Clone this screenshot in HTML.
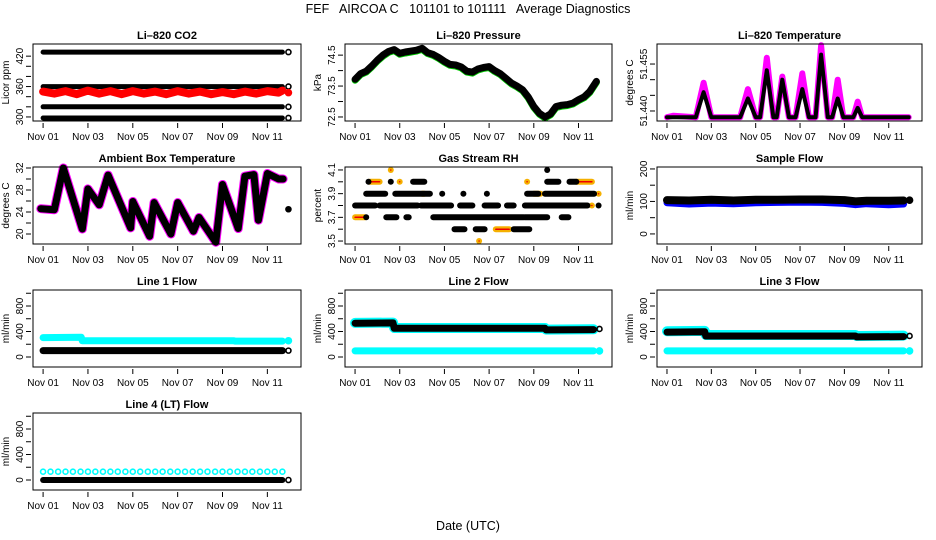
<!DOCTYPE html>
<html><head><meta charset="utf-8">
<style>
html,body{margin:0;padding:0;background:#fff;}
svg{display:block;font-family:"Liberation Sans",Arial,sans-serif;}
</style></head>
<body>
<svg id="chart" width="936" height="540" viewBox="0 0 936 540" xmlns="http://www.w3.org/2000/svg">
<text x="468" y="13" text-anchor="middle" font-size="12.5" style="white-space:pre" xml:space="preserve">FEF   AIRCOA C   101101 to 101111   Average Diagnostics</text>
<text x="468" y="530" text-anchor="middle" font-size="12.5">Date (UTC)</text>
</svg>
<script>
// ---- shared x data ----
const xTickDays = [0,2,4,6,8,10];
const xTickLabels = ["Nov 01","Nov 03","Nov 05","Nov 07","Nov 09","Nov 11"];

// ---- CO2 ----
const co2Days = [0,10.67];
const co2Black1 = [428,428];
const co2Black2 = [360,360];
const co2Black3 = [320,320];
const co2Black4 = [298,298];
const co2RedDays = [0,0.5,1,1.5,2,2.5,3,3.5,4,4.5,5,5.5,6,6.5,7,7.5,8,8.5,9,9.5,10,10.5,10.67];
const co2Red = [350,346,351,345,352,346,351,345,351,346,350,345,351,346,350,345,349,345,350,346,351,348,352];

// ---- Pressure ----
const presDays = [0,0.25,0.5,0.75,1,1.25,1.5,1.75,2,2.25,2.5,2.75,3,3.25,3.5,3.75,4,4.25,4.5,4.75,5,5.25,5.5,5.75,6,6.25,6.5,6.75,7,7.25,7.5,7.75,8,8.25,8.5,8.75,9,9.25,9.5,9.75,10,10.25,10.5,10.8];
const presVals = [73.72,73.9,73.98,74.15,74.34,74.5,74.62,74.68,74.56,74.6,74.63,74.66,74.72,74.58,74.52,74.42,74.3,74.2,74.18,74.12,73.98,73.95,74.05,74.1,74.13,74.0,73.9,73.75,73.6,73.5,73.38,73.15,72.84,72.62,72.5,72.6,72.84,72.88,72.9,72.95,73.06,73.15,73.32,73.65];

// ---- Li-820 temperature spikes ----
const ltDays = [0,0.3,1.3,1.65,2.0,3.3,3.65,4.0,4.2,4.5,4.8,4.95,5.2,5.5,5.8,6.1,6.4,6.7,6.95,7.25,7.45,7.7,7.95,8.4,8.6,8.8,10.9];
const ltMagenta = [51.438,51.4385,51.438,51.449,51.438,51.438,51.447,51.438,51.438,51.457,51.438,51.438,51.451,51.438,51.438,51.452,51.438,51.438,51.461,51.438,51.438,51.450,51.438,51.438,51.443,51.438,51.438];
const ltBlack = [51.438,51.438,51.438,51.446,51.438,51.438,51.444,51.438,51.438,51.453,51.438,51.438,51.450,51.438,51.438,51.447,51.438,51.438,51.458,51.438,51.438,51.444,51.438,51.438,51.441,51.438,51.438];

// ---- Ambient box temperature ----
const ambDays = [-0.1,0.5,0.9,1.75,2.0,2.5,2.9,3.9,4.0,4.75,4.95,5.7,6.0,6.7,6.95,7.7,8.0,8.7,9.0,9.4,9.6,10.0,10.5,10.7];
const ambVals = [24.6,24.4,32,20.9,28.2,25.3,30.7,21.1,25.9,19.6,25.7,20,25.7,20.5,23,18.5,29,21,30.5,30.8,22.5,31,30,30];

// ---- Gas stream RH (segments) ----
const rhStart = [0,1.1,2.95,4.7,5.8,6.8,7.6,10.9, 0.5,1.8,3.9,4.85,5.9,7.7,8.5, 0.5,1.4,2.3,3.5,7.6,9.25, 0.6,1.6,2.6,8.6,9.6, 4.45,5.4,7.1, 8.6];
const rhEnd   = [0.9,2.8,4.3,5.25,6.4,7.1,10.4,10.9, 1.35,3.35,3.9,4.85,5.9,8.2,10.7, 0.5,1.85,2.4,7.55,8.6,9.55, 0.6,1.6,3.1,9.1,9.9, 4.9,5.8,7.8, 8.6];
const rhVal   = [3.8,3.8,3.8,3.8,3.8,3.8,3.8,3.8, 3.9,3.9,3.9,3.9,3.9,3.9,3.9, 3.7,3.7,3.7,3.7,3.7,3.7, 4.0,4.0,4.0,4.0,4.0, 3.6,3.6,3.6, 4.1];
const rhOrStart = [0,0.65,6.3,5.55,1.6,9.9,10.9,10.6,7.7,2.0,3.0,8.0];
const rhOrEnd   = [0.45,1.1,6.9,5.55,1.6,10.6,10.9,10.6,7.7,2.0,3.1,8.3];
const rhOrVal   = [3.7,4.0,3.6,3.5,4.1,4.0,3.9,3.8,4.0,4.0,3.9,3.9];

// ---- Sample flow ----
const sfDays = [0,1,2,3,4,5,6,7,8,8.5,9,10,10.67];
const sfBlack = [104,103,105,103,105,105,106,106,104,100,102,102,103];
const sfBlue = [96,92,95,93,96,97,98,97,94,90,93,90,92];

// ---- Line flows ----
const lfDays = [0,1.7,1.75,8.5,8.55,10.67];
const l1Black = [100,100,100,100,100,100];
const l1Cyan = [305,310,255,255,250,250];
const l2Black = [530,535,450,450,425,430];
const l2CyanLow = [95,95,95,95,95,95];
const l3Black = [390,395,330,330,315,320];
const l3CyanHigh = [405,410,345,345,330,335];
const l3CyanLow = [95,95,95,95,95,95];
const l4Days = [0,0.33,0.67,1,1.33,1.67,2,2.33,2.67,3,3.33,3.67,4,4.33,4.67,5,5.33,5.67,6,6.33,6.67,7,7.33,7.67,8,8.33,8.67,9,9.33,9.67,10,10.33,10.67];
const l4Cyan = [130,130,130,130,130,130,130,130,130,130,130,130,130,130,130,130,130,130,130,130,130,130,130,130,130,130,130,130,130,130,130,130,130];
const l4BlackDays = [0,10.67];
const l4Black = [0,0];

const NS = "http://www.w3.org/2000/svg";
const svg = document.getElementById('chart');
const cols = [[33,301],[345,612],[657,922]];
const rows = [[44,121],[167,244],[290,367],[413,490]];
const XD = [-0.45,11.5];

function mk(tag, attrs, parent){
  const e = document.createElementNS(NS, tag);
  for (const k in attrs) e.setAttribute(k, attrs[k]);
  (parent||svg).appendChild(e);
  return e;
}

function panel(name, title, col, row, yd, yticks, ylabels, ytitle){
  const [x0,x1] = cols[col], [y0,y1] = rows[row];
  const g = mk('g', {});
  
  
  const sx = d => x0 + (d - XD[0]) / (XD[1]-XD[0]) * (x1-x0);
  const sy = v => y1 - (v - yd[0]) / (yd[1]-yd[0]) * (y1-y0);
  const t = mk('text', {x:(x0+x1)/2, y:y0-5, 'text-anchor':'middle', 'font-size':11, 'font-weight':'bold'}, g);
  t.textContent = title;
  
  
  const xa = mk('g', {}, g);
  
  
  xTickDays.forEach((d,i)=>{
    const x = sx(d);
    mk('line',{x1:x,x2:x,y1:y1+2,y2:y1+7,stroke:'#000','stroke-width':1},xa);
    const l = mk('text',{x:x,y:y1+19,'text-anchor':'middle','font-size':10},xa);
    l.textContent = xTickLabels[i];
  });
  const ya = mk('g', {}, g);
  
  
  yticks.forEach((v,i)=>{
    const y = sy(v);
    mk('line',{x1:x0-2,x2:x0-7,y1:y,y2:y,stroke:'#000','stroke-width':1},ya);
    if (ylabels[i] !== '') {
      const l = mk('text',{x:x0-10,y:y,'text-anchor':'middle','font-size':10,transform:`rotate(-90 ${x0-10} ${y})`},ya);
      l.textContent = ylabels[i];
    }
  });
  const yt = mk('text',{x:x0-24,y:(y0+y1)/2,'text-anchor':'middle','font-size':10,transform:`rotate(-90 ${x0-24} ${(y0+y1)/2})`},g);
  yt.textContent = ytitle;
  
  
  const clip = mk('g', {}, g);
  return {g: clip, sx, sy, box: ()=>{
    const r = mk('rect',{x:x0,y:y0,width:x1-x0,height:y1-y0,fill:'none',stroke:'#000','stroke-width':1},g);
    
    
  }};
}

function line(p, name, days, vals, color, w){
  const pts = days.map((d,i)=>p.sx(d).toFixed(1)+','+p.sy(vals[i]).toFixed(1)).join(' ');
  const e = mk('polyline',{points:pts,fill:'none',stroke:color,'stroke-width':w,'stroke-linejoin':'round','stroke-linecap':'round'},p.g);
  
  
}
function dot(p, name, d, v, color, r, fill){
  const e = mk('circle',{cx:p.sx(d),cy:p.sy(v),r:r||2.5,fill:fill||'none',stroke:color,'stroke-width':1.6},p.g);
  
  
}
function dots(p, name, days, vals, color, r){
  days.forEach((d,i)=>dot(p,name,d,vals[i],color,r));
}

let p = panel('co2','Li\u2013820 CO2',0,0,[292,444],[300,320,340,360,380,400,420],['300','','','360','','','420'],'Licor ppm');
line(p,'co2-black-428',co2Days,co2Black1,'#000',5);
line(p,'co2-black-360',co2Days,co2Black2,'#000',5);
line(p,'co2-black-320',co2Days,co2Black3,'#000',5);
line(p,'co2-black-298',co2Days,co2Black4,'#000',5);
line(p,'co2-red',co2RedDays,co2Red,'#f00',8);
dot(p,'co2-end-point',10.94,428,'#000');dot(p,'co2-end-point',10.94,360,'#000');dot(p,'co2-end-point',10.94,320,'#000');dot(p,'co2-end-point',10.94,298,'#000');
dot(p,'co2-red-end',10.94,348,'#f00',3,'#f00');
p.box();

p = panel('pressure','Li\u2013820 Pressure',1,0,[72.37,74.86],[72.5,73,73.5,74,74.5],['72.5','','73.5','','74.5'],'kPa');
line(p,'pressure-green',presDays,presVals.map(v=>v-0.03),'#0c0',7);
line(p,'pressure-black',presDays,presVals,'#000',7);
p.box();

p = panel('li-temp','Li\u2013820 Temperature',2,0,[51.4368,51.4614],[51.440,51.445,51.450,51.455],['51.440','','','51.455'],'degrees C');
line(p,'li-temp-magenta',ltDays,ltMagenta,'#f0f',6);
line(p,'li-temp-black',ltDays,ltBlack,'#000',4);
p.box();

p = panel('ambient','Ambient Box Temperature',0,1,[18.18,32.18],[20,22,24,26,28,30,32],['20','','24','','28','','32'],'degrees C');
line(p,'ambient-magenta',ambDays,ambVals,'#f0f',9);
line(p,'ambient-black',ambDays,ambVals,'#000',7);
dot(p,'ambient-end-point',10.94,24.5,'#000',2.5,'#000');
p.box();

p = panel('rh','Gas Stream RH',1,1,[3.475,4.125],[3.5,3.6,3.7,3.8,3.9,4.0,4.1],['3.5','','3.7','','3.9','','4.1'],'percent');
rhOrStart.forEach((s,i)=>{
  line(p,'rh-orange-segment',[s,rhOrEnd[i]],[rhOrVal[i],rhOrVal[i]],'#f5b000',6);
  line(p,'rh-red-segment',[s,rhOrEnd[i]],[rhOrVal[i],rhOrVal[i]],'#e00',1.5);
});
rhStart.forEach((s,i)=>{
  line(p,'rh-black-segment',[s,rhEnd[i]],[rhVal[i],rhVal[i]],'#000',6);
});
p.box();

p = panel('sample-flow','Sample Flow',2,1,[-31,206],[0,50,100,150,200],['0','','100','','200'],'ml/min');
line(p,'sample-flow-blue',sfDays,sfBlue,'#00f',7);
line(p,'sample-flow-black',sfDays,sfBlack,'#000',8);
dot(p,'sample-flow-end',10.94,104,'#000',3,'#000');
p.box();

const lfTicks=[0,200,400,600,800,1000], lfLabels=['0','','400','','800',''];
p = panel('line1-flow','Line 1 Flow',0,2,[-157,1051],lfTicks,lfLabels,'ml/min');
line(p,'line1-cyan',lfDays,l1Cyan,'#0ff',7);
line(p,'line1-black',lfDays,l1Black,'#000',7);
dot(p,'line1-end',10.94,100,'#000');dot(p,'line1-cyan-end',10.94,255,'#0ff',3,'#0ff');
p.box();
p = panel('line2-flow','Line 2 Flow',1,2,[-157,1051],lfTicks,lfLabels,'ml/min');
line(p,'line2-cyan-high',lfDays,l2Black.map(v=>v+5),'#0ff',10);
line(p,'line2-black',lfDays,l2Black,'#000',7);
line(p,'line2-cyan-low',lfDays,l2CyanLow,'#0ff',7);
dot(p,'line2-end',10.94,440,'#000');dot(p,'line2-cyan-end',10.94,95,'#0ff',3,'#0ff');
p.box();
p = panel('line3-flow','Line 3 Flow',2,2,[-157,1051],lfTicks,lfLabels,'ml/min');
line(p,'line3-cyan-high',lfDays,l3CyanHigh,'#0ff',10);
line(p,'line3-black',lfDays,l3Black,'#000',7);
line(p,'line3-cyan-low',lfDays,l3CyanLow,'#0ff',7);
dot(p,'line3-end',10.94,330,'#000');dot(p,'line3-cyan-end',10.94,95,'#0ff',3,'#0ff');
p.box();
p = panel('line4-flow','Line 4 (LT) Flow',0,3,[-157,1051],lfTicks,lfLabels,'ml/min');
dots(p,'line4-cyan-point',l4Days,l4Cyan,'#0ff',2.5);
line(p,'line4-black',l4BlackDays,l4Black,'#000',6);
dot(p,'line4-end',10.94,0,'#000');
p.box();
</script>
</body></html>
